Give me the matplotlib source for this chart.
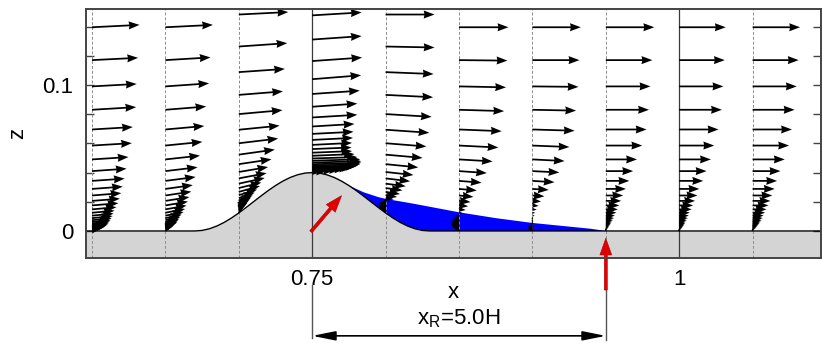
import numpy as np
import matplotlib
matplotlib.use('Agg')
import matplotlib.pyplot as plt

plt.rcParams['font.family'] = ['Liberation Sans', 'DejaVu Sans']
plt.rcParams['mathtext.fontset'] = 'custom'
plt.rcParams['mathtext.rm'] = 'Liberation Sans'

# hill surface
hill_x = [0.59, 0.670, 0.675, 0.680, 0.685, 0.690, 0.695, 0.700, 0.705, 0.710, 0.715,
          0.720, 0.725, 0.730, 0.735, 0.740, 0.745, 0.750, 0.755, 0.760, 0.765,
          0.770, 0.775, 0.780, 0.785, 0.790, 0.795, 0.800, 0.805, 0.810, 0.815,
          0.820, 0.825, 0.830, 1.10]
hill_h = [0.0, 0.0, 0.00038, 0.00152, 0.00337, 0.00586, 0.00889, 0.01235, 0.01610, 0.02000, 0.02390,
          0.02765, 0.03111, 0.03414, 0.03663, 0.03848, 0.03962, 0.04000, 0.03962, 0.03848, 0.03663,
          0.03414, 0.03111, 0.02765, 0.02390, 0.02000, 0.01610, 0.01235, 0.00889, 0.00586, 0.00337,
          0.00152, 0.00038, 0.0, 0.0]

# top of the recirculation bubble
bubble_x = [0.775, 0.785, 0.795, 0.800, 0.820, 0.850, 0.875, 0.900, 0.925, 0.940, 0.950]
bubble_top = [0.0311, 0.0265, 0.0232, 0.0220, 0.0185, 0.0128, 0.0088, 0.0055, 0.0030, 0.0015, 0.0]

# profile stations, local ground height and grid squeeze over the hill
profile_x = [0.60, 0.65, 0.70, 0.75, 0.80, 0.85, 0.90, 0.95, 1.00, 1.05]
ground_z = [0.0, 0.0, 0.01235, 0.04, 0.01235, 0.0, 0.0, 0.0, 0.0, 0.0]
squeeze = [1.0, 1.0, 0.974, 0.92, 0.974, 1.0, 1.0, 1.0, 1.0, 1.0]

# grid levels above ground
zeta = [0.1395, 0.1170, 0.0990, 0.0830, 0.0695, 0.0585, 0.0490, 0.0410, 0.0343, 0.0288,
        0.0243, 0.0206, 0.0175, 0.0148, 0.0125, 0.0105, 0.0088, 0.0074, 0.0062, 0.0052,
        0.0043, 0.0036, 0.0030, 0.0025, 0.0020, 0.0016, 0.0012, 0.0008, 0.0004]

# streamwise velocity u/U at each level
u_060 = [0.99, 0.96, 0.93, 0.92, 0.85, 0.83, 0.76, 0.72, 0.68, 0.64,
         0.61, 0.58, 0.55, 0.51, 0.47, 0.45, 0.43, 0.41, 0.39, 0.37,
         0.35, 0.33, 0.31, 0.29, 0.27, 0.24, 0.21, 0.17, 0.10]
u_065 = [0.99, 0.94, 0.91, 0.85, 0.81, 0.77, 0.72, 0.67, 0.63, 0.57,
         0.54, 0.50, 0.47, 0.44, 0.41, 0.38, 0.34, 0.31, 0.29, 0.27,
         0.25, 0.23, 0.20, 0.18, 0.16, 0.14, 0.11, 0.09, 0.06]
u_070 = [1.03, 1.01, 0.96, 0.92, 0.91, 0.85, 0.82, 0.75, 0.68, 0.61,
         0.58, 0.54, 0.47, 0.44, 0.38, 0.33, 0.29, 0.26, 0.23, 0.20,
         0.18, 0.16, 0.14, 0.11, 0.09, 0.08, 0.06, 0.05, 0.03]
u_075 = [1.02, 1.03, 1.03, 1.04, 1.02, 0.99, 0.94, 0.94, 0.88, 0.86,
         0.85, 0.83, 0.82, 0.83, 0.88, 0.94, 1.00, 1.02, 1.02, 1.00,
         0.96, 0.92, 0.85, 0.79, 0.69, 0.58, 0.46, 0.31, 0.17]
u_080 = [1.02, 1.02, 1.00, 0.99, 0.96, 0.91, 0.85, 0.77, 0.68, 0.58,
         0.51, 0.42, 0.35, 0.30, 0.24, 0.17, -0.06, -0.10, -0.13, -0.14,
         -0.15, -0.15, -0.14, -0.13, -0.11, -0.10, -0.08, -0.06, -0.04]
u_085 = [1.03, 1.01, 0.98, 0.94, 0.89, 0.82, 0.70, 0.58, 0.47, 0.37,
         0.30, 0.24, 0.19, 0.14, 0.07, -0.08, -0.13, -0.16, -0.17, -0.17,
         -0.17, -0.16, -0.15, -0.14, -0.13, -0.10, -0.08, -0.06, -0.04]
u_090 = [1.01, 0.98, 0.96, 0.91, 0.88, 0.77, 0.67, 0.56, 0.46, 0.34,
         0.25, 0.18, 0.13, 0.09, 0.06, 0.05, 0.03, 0.025, 0.017, 0.008,
         -0.04, -0.07, -0.09, -0.10, -0.10, -0.09, -0.08, -0.06, -0.04]
u_095 = [1.01, 0.97, 0.93, 0.90, 0.85, 0.76, 0.65, 0.57, 0.49, 0.42,
         0.36, 0.32, 0.28, 0.25, 0.22, 0.19, 0.17, 0.15, 0.13, 0.11,
         0.10, 0.08, 0.07, 0.06, 0.05, 0.04, 0.03, 0.02, 0.01]
u_100 = [0.97, 0.95, 0.92, 0.89, 0.82, 0.73, 0.66, 0.57, 0.50, 0.42,
         0.38, 0.33, 0.29, 0.26, 0.22, 0.20, 0.18, 0.16, 0.14, 0.125,
         0.11, 0.10, 0.083, 0.07, 0.058, 0.048, 0.038, 0.025, 0.013]
u_105 = [0.99, 0.96, 0.92, 0.875, 0.82, 0.76, 0.67, 0.58, 0.51, 0.46,
         0.41, 0.37, 0.33, 0.29, 0.26, 0.23, 0.21, 0.19, 0.17, 0.146,
         0.13, 0.11, 0.096, 0.08, 0.067, 0.054, 0.042, 0.027, 0.015]

# flow inclination w/u at each level
tilt_060 = [0.05, 0.05, 0.055, 0.06, 0.06, 0.06, 0.065, 0.07, 0.07, 0.075,
            0.08, 0.08, 0.085, 0.09, 0.09, 0.095, 0.10, 0.10, 0.10, 0.10,
            0.10, 0.10, 0.10, 0.10, 0.10, 0.10, 0.10, 0.10, 0.10]
tilt_065 = [0.05, 0.06, 0.07, 0.08, 0.09, 0.10, 0.11, 0.12, 0.13, 0.14,
            0.15, 0.16, 0.17, 0.18, 0.19, 0.20, 0.21, 0.22, 0.22, 0.23,
            0.23, 0.24, 0.24, 0.25, 0.25, 0.25, 0.25, 0.25, 0.25]
tilt_070 = [0.05, 0.07, 0.07, 0.08, 0.09, 0.10, 0.12, 0.14, 0.15, 0.17,
            0.19, 0.22, 0.25, 0.28, 0.31, 0.34, 0.37, 0.40, 0.42, 0.44,
            0.46, 0.48, 0.50, 0.52, 0.54, 0.55, 0.56, 0.57, 0.58]
tilt_075 = [0.05, 0.06, 0.07, 0.07, 0.08, 0.07, 0.07, 0.06, 0.06, 0.05,
            0.05, 0.05, 0.04, 0.04, 0.04, 0.03, 0.03, 0.03, 0.03, 0.03,
            0.03, 0.03, 0.03, 0.03, 0.03, 0.03, 0.03, 0.03, 0.03]
tilt_080 = [0.0, -0.02, -0.04, -0.05, -0.06, -0.07, -0.08, -0.09, -0.10, -0.11,
            -0.12, -0.13, -0.14, -0.15, -0.16, -0.17, -0.30, -0.30, -0.30, -0.30,
            -0.30, -0.30, -0.30, -0.30, -0.30, -0.30, -0.30, -0.30, -0.30]
tilt_085 = [0.0, -0.01, -0.02, -0.03, -0.04, -0.05, -0.06, -0.07, -0.08, -0.09,
            -0.10, -0.10, -0.10, -0.10, -0.10, -0.05, -0.05, -0.05, -0.05, -0.05,
            -0.05, -0.05, -0.05, -0.05, -0.05, -0.05, -0.05, -0.05, -0.05]
tilt_090 = [0.0, 0.0, -0.01, -0.02, -0.03, -0.04, -0.05, -0.05, -0.06, -0.06,
            -0.07, -0.07, -0.08, -0.08, -0.08, -0.08, -0.08, -0.08, -0.08, -0.08,
            0.0, 0.0, 0.0, 0.0, 0.0, 0.0, 0.0, 0.0, 0.0]
tilt_095 = [0.0, 0.0, 0.0, 0.0, 0.0, 0.0, 0.0, 0.0, 0.0, 0.0,
            0.0, 0.0, 0.0, 0.0, 0.0, 0.0, 0.0, 0.0, 0.0, 0.0,
            0.0, 0.0, 0.0, 0.0, 0.0, 0.0, 0.0, 0.0, 0.0]
tilt_100 = tilt_095
tilt_105 = tilt_095

u_profiles = [u_060, u_065, u_070, u_075, u_080, u_085, u_090, u_095, u_100, u_105]
tilt_profiles = [tilt_060, tilt_065, tilt_070, tilt_075, tilt_080,
                 tilt_085, tilt_090, tilt_095, tilt_100, tilt_105]

x_reattach = 0.95
x_crest = 0.75

XMIN, XMAX = 0.5959, 1.0966
ZMIN, ZMAX = -0.0185, 0.152
ARROW_SCALE = 30.6   # u/U = 1 -> ~48 px

fig = plt.figure(figsize=(8.22, 3.43), dpi=100)
ax = fig.add_axes([86 / 822, 85 / 343, 735 / 822, 249 / 343])
ax.set_xlim(XMIN, XMAX)
ax.set_ylim(ZMIN, ZMAX)

# ground
ax.fill_between(hill_x, hill_h, ZMIN, color='#d4d4d4', lw=0, zorder=1)
ax.plot(hill_x, hill_h, color='black', lw=1.0, zorder=3)

# recirculation bubble
bot = [(x, h) for x, h in zip(hill_x, hill_h) if bubble_x[0] <= x <= bubble_x[-1]]
bot.append((bubble_x[-1], 0.0))
poly_x = list(bubble_x) + [p[0] for p in bot[::-1]]
poly_z = list(bubble_top) + [p[1] for p in bot[::-1]]
ax.fill(poly_x, poly_z, color='#0000ff', lw=0, zorder=2)

# station lines
for xp in profile_x:
    if abs(xp - 0.75) < 1e-6 or abs(xp - 1.0) < 1e-6:
        ax.axvline(xp, color='#3a3a3a', lw=0.9, zorder=2.5)
    else:
        ax.axvline(xp, color='#8c8c8c', lw=0.7, ls=(0, (3, 2)), zorder=2.5)

# velocity vectors
X, Z, U, W = [], [], [], []
for xp, g, s, u, t in zip(profile_x, ground_z, squeeze, u_profiles, tilt_profiles):
    u = np.array(u)
    X.append(np.full(len(zeta), xp))
    Z.append(g + np.array(zeta) * s)
    U.append(u)
    W.append(u * np.array(t))
X, Z, U, W = map(np.concatenate, (X, Z, U, W))
ax.quiver(X, Z, U, W, angles='xy', scale_units='xy', scale=ARROW_SCALE,
          units='dots', width=1.75, headwidth=4.6, headlength=6.2, headaxislength=5.8,
          color='black', zorder=4)

# red markers: separation and reattachment
ax.annotate('', xy=(0.770, 0.0242), xytext=(0.7491, -0.0005),
            arrowprops=dict(arrowstyle='simple,head_length=1.2,head_width=0.85,tail_width=0.22',
                            fc='#e00000', ec='#b00000', lw=0.4, shrinkA=0, shrinkB=0),
            zorder=5)
ax.annotate('', xy=(x_reattach, -0.005), xytext=(x_reattach, -0.0404),
            arrowprops=dict(arrowstyle='simple,head_length=1.2,head_width=0.85,tail_width=0.22',
                            fc='#e00000', ec='#b00000', lw=0.4, shrinkA=0, shrinkB=0),
            annotation_clip=False, zorder=5)

# reattachment length dimension
ax.plot([x_crest, x_crest], [-0.037, -0.0735], color='#555555', lw=1.0, clip_on=False)
ax.plot([x_reattach, x_reattach], [-0.0404, -0.0745], color='#555555', lw=1.0, clip_on=False)
ax.annotate('', xy=(x_reattach, -0.0718), xytext=(x_crest, -0.0718),
            arrowprops=dict(arrowstyle='<|-|>,head_length=1.4,head_width=0.28',
                            color='black', lw=1.2, shrinkA=0, shrinkB=0),
            annotation_clip=False)
ax.text((x_crest + x_reattach) / 2, -0.0603, r'x$_\mathregular{R}$=5.0H',
        ha='center', va='center', fontsize=16, clip_on=False)

# axes styling
ax.set_xticks([0.75, 1.0])
ax.set_xticklabels(['0.75', '1'])
ax.set_yticks([0.0, 0.1])
ax.set_yticklabels(['0', '0.1'])
ax.set_yticks([0.02, 0.04, 0.06, 0.08, 0.12, 0.14], minor=True)
ax.tick_params(which='both', direction='in', length=6, width=1, color='#444444',
               right=True, labelsize=16, pad=9)
ax.tick_params(axis='x', length=0, pad=8)
for sp in ax.spines.values():
    sp.set_color('#444444')
    sp.set_linewidth(1.4)
    sp.set_zorder(6)
ax.set_xlabel('x', fontsize=16, labelpad=-6)
ax.set_ylabel('z', fontsize=16, labelpad=10)

fig.savefig('out.png', dpi=100)
